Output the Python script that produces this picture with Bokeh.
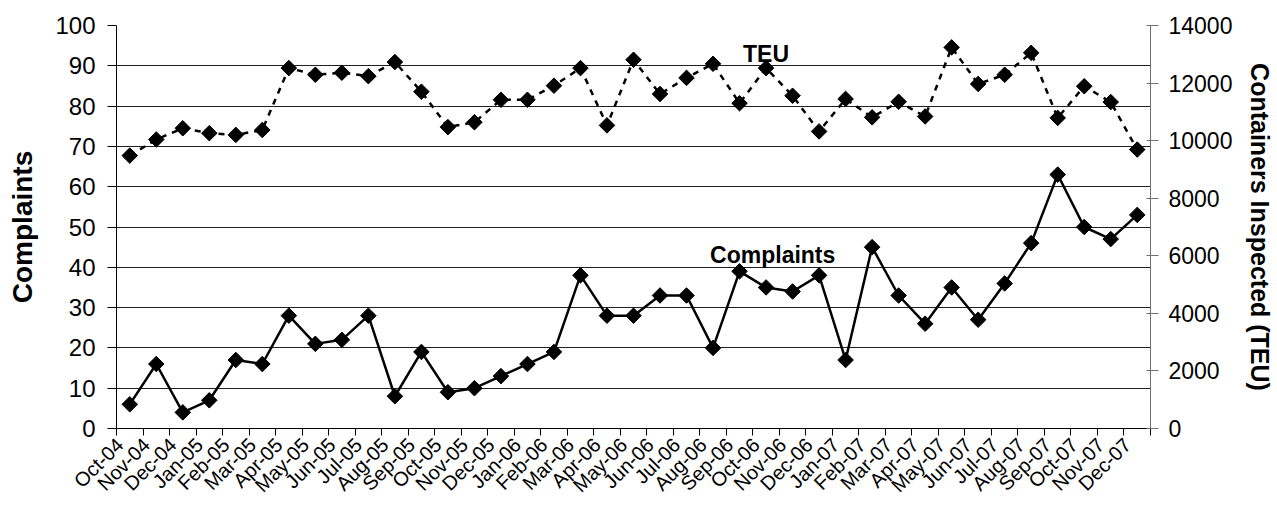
import math
from bokeh.plotting import figure
from bokeh.models import Range1d, LinearAxis, FixedTicker, Label
from bokeh.embed import file_html
from bokeh.resources import INLINE

months = ["Oct-04", "Nov-04", "Dec-04", "Jan-05", "Feb-05", "Mar-05", "Apr-05", "May-05",
          "Jun-05", "Jul-05", "Aug-05", "Sep-05", "Oct-05", "Nov-05", "Dec-05", "Jan-06",
          "Feb-06", "Mar-06", "Apr-06", "May-06", "Jun-06", "Jul-06", "Aug-06", "Sep-06",
          "Oct-06", "Nov-06", "Dec-06", "Jan-07", "Feb-07", "Mar-07", "Apr-07", "May-07",
          "Jun-07", "Jul-07", "Aug-07", "Sep-07", "Oct-07", "Nov-07", "Dec-07"]

complaints = [6, 16, 4, 7, 17, 16, 28, 21, 22, 28, 8, 19, 9, 10, 13, 16, 19, 38, 28, 28,
              33, 33, 20, 39, 35, 34, 38, 17, 45, 33, 26, 35, 27, 36, 46, 63, 50, 47, 53]

teu = [9480, 10040, 10430, 10260, 10200, 10370, 12520, 12290, 12360, 12240, 12730, 11700,
       10470, 10640, 11420, 11420, 11910, 12520, 10530, 12810, 11620, 12180, 12670, 11300,
       12520, 11560, 10320, 11450, 10810, 11350, 10840, 13240, 11970, 12290, 13050, 10790,
       11890, 11340, 9690]

left_ticks = list(range(0, 101, 10))
right_ticks = list(range(0, 14001, 2000))

FONT = "Liberation Sans"
n = len(months)
x = list(range(n))

W, H = 1277, 508
FL, FR, FT, FB = 116, 1154, 25, 428   # plot-frame edges in page pixels
p = figure(width=W, height=H, output_backend="svg", toolbar_location=None,
           x_range=Range1d(-0.5, n - 0.5), y_range=Range1d(0, 100),
           min_border_left=FL, min_border_right=W - FR,
           min_border_top=FT, min_border_bottom=H - FB)
p.outline_line_color = None
p.background_fill_color = "white"
p.border_fill_color = "white"

p.extra_y_ranges = {"teu": Range1d(0, 14000)}

# x axis: tick marks at category boundaries; rotated labels anchored a bit left of centre
SHIFT = 0.375
label_pos = [i - SHIFT for i in x]
p.xaxis.ticker = FixedTicker(ticks=label_pos, minor_ticks=[i - 0.5 for i in range(n + 1)])
p.xaxis.major_label_overrides = {pos: m for pos, m in zip(label_pos, months)}
p.xaxis.major_label_orientation = math.pi / 4
p.xaxis.major_tick_in = 0
p.xaxis.major_tick_out = 0
p.xaxis.minor_tick_in = 0
p.xaxis.minor_tick_out = 7
p.xaxis.minor_tick_line_color = "black"
p.xaxis.axis_line_color = "black"
p.xaxis.major_label_text_font = FONT
p.xaxis.major_label_text_font_size = "20px"
p.xaxis.major_label_text_color = "black"
p.xaxis.major_label_standoff = 6

# left axis
p.yaxis.ticker = FixedTicker(ticks=left_ticks, minor_ticks=[])
p.yaxis.axis_label = "Complaints"
p.yaxis.axis_label_text_font = FONT
p.yaxis.axis_label_text_font_style = "bold"
p.yaxis.axis_label_text_font_size = "28px"
p.yaxis.axis_label_text_color = "black"
p.yaxis.major_label_text_font = FONT
p.yaxis.major_label_text_font_size = "24px"
p.yaxis.major_label_text_color = "black"
p.yaxis.major_tick_in = 0
p.yaxis.major_tick_out = 9
p.yaxis.major_tick_line_color = "black"
p.yaxis.axis_line_color = "black"
p.yaxis.major_label_standoff = 12
p.yaxis.axis_label_standoff = 14

# right axis
ax_r = LinearAxis(y_range_name="teu", ticker=FixedTicker(ticks=right_ticks, minor_ticks=[]),
                  axis_label="Containers Inspected (TEU)")
ax_r.axis_label_text_font = FONT
ax_r.axis_label_text_font_style = "bold"
ax_r.axis_label_text_font_size = "25px"
ax_r.axis_label_text_color = "black"
ax_r.major_label_text_font = FONT
ax_r.major_label_text_font_size = "23px"
ax_r.major_label_text_color = "black"
ax_r.major_tick_in = 4
ax_r.major_tick_out = 8
ax_r.major_tick_line_color = "#707070"
ax_r.axis_line_color = "#707070"
ax_r.major_label_standoff = 10
ax_r.axis_label_standoff = 11
p.add_layout(ax_r, "right")

# grid
p.xgrid.visible = False
p.ygrid.ticker = FixedTicker(ticks=left_ticks)
p.ygrid.grid_line_color = "#202020"
p.ygrid.grid_line_width = 1

# TEU series (dashed)
p.line(x, teu, y_range_name="teu", line_color="black", line_width=2.5, line_dash="6 6")
p.scatter(x, teu, y_range_name="teu", marker="square", angle=math.pi / 4, size=11,
          fill_color="black", line_color="black")

# Complaints series (solid)
p.line(x, complaints, line_color="black", line_width=2.5)
p.scatter(x, complaints, marker="square", angle=math.pi / 4, size=11,
          fill_color="black", line_color="black")

p.add_layout(Label(x=24, y=93, text="TEU", text_align="center", text_baseline="alphabetic",
                   text_font=FONT, text_font_style="bold", text_font_size="23px",
                   text_color="black"))
p.add_layout(Label(x=24.25, y=43, text="Complaints", text_align="center",
                   text_baseline="alphabetic", text_font=FONT, text_font_style="bold",
                   text_font_size="23px", text_color="black"))

open("out.html", "w").write(file_html(p, INLINE))
